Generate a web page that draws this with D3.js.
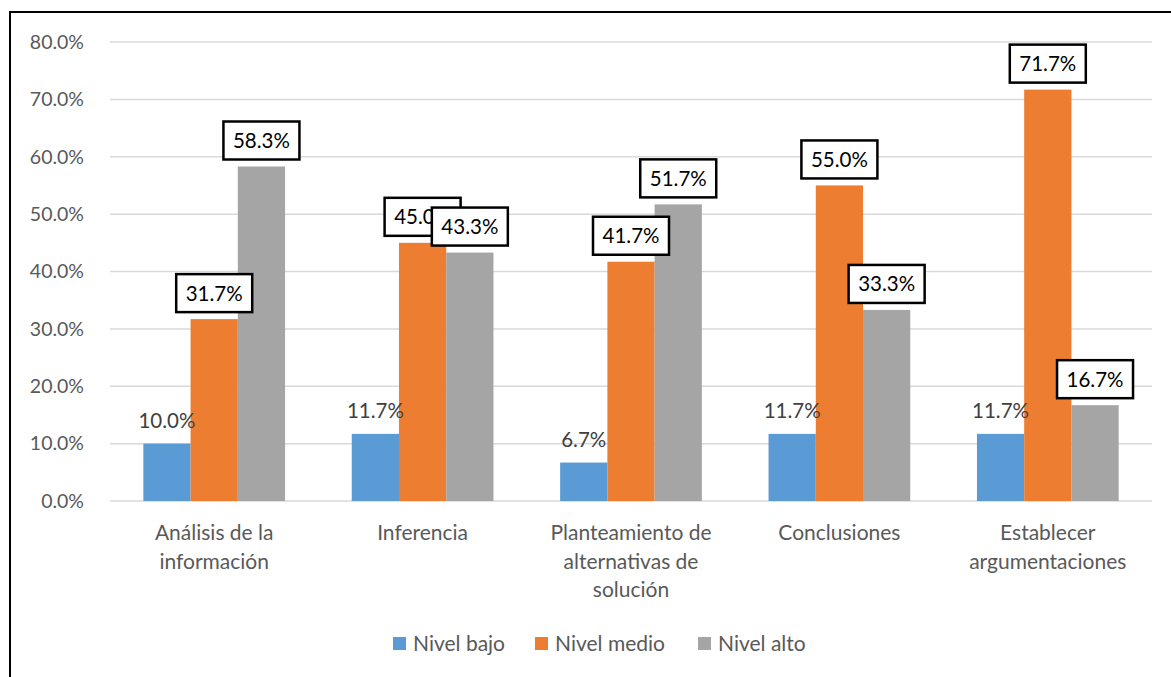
<!DOCTYPE html>
<html>
<head>
<meta charset="utf-8">
<script src="https://cdn.jsdelivr.net/npm/d3@7"></script>
<style>
  body { margin: 0; background: #fff; }
  svg { font-family: Lato, "Open Sans", sans-serif; }
</style>
</head>
<body>
<svg></svg>
<script>
// chart data
var categories = [
  ["Análisis de la", "información"],
  ["Inferencia"],
  ["Planteamiento de", "alternativas de", "solución"],
  ["Conclusiones"],
  ["Establecer", "argumentaciones"]
];
var seriesNames = ["Nivel bajo", "Nivel medio", "Nivel alto"];
var nivelBajo = [10.0, 11.7, 6.7, 11.7, 11.7];
var nivelMedio = [31.7, 45.0, 41.7, 55.0, 71.7];
var nivelAlto = [58.3, 43.3, 51.7, 33.3, 16.7];
var yTicks = [0, 10, 20, 30, 40, 50, 60, 70, 80];

var colors = ["#5B9BD5", "#ED7D31", "#A5A5A5"];
var series = [nivelBajo, nivelMedio, nivelAlto];

var svgWidth = 1171, svgHeight = 677;
var plotLeft = 110, plotRight = 1152, plotTop = 42, plotBottom = 501;

var svg = d3.select("svg")
    .attr("width", svgWidth)
    .attr("height", svgHeight);

// outer frame (runs off the right and bottom edges)
svg.append("rect")
    .attr("x", 10).attr("y", 12)
    .attr("width", 1200).attr("height", 700)
    .attr("fill", "none")
    .attr("stroke", "#000")
    .attr("stroke-width", 2);

var x0 = d3.scaleBand()
    .domain(d3.range(categories.length))
    .range([plotLeft, plotRight])
    .paddingInner(0.32)
    .paddingOuter(0.16);

var x1 = d3.scaleBand()
    .domain(d3.range(series.length))
    .range([0, x0.bandwidth()]);

var y = d3.scaleLinear()
    .domain([0, 80])
    .range([plotBottom, plotTop]);

// gridlines
svg.append("g")
    .selectAll("line")
    .data(yTicks)
    .enter()
    .append("line")
    .attr("x1", plotLeft).attr("x2", plotRight)
    .attr("y1", function(d) { return y(d); })
    .attr("y2", function(d) { return y(d); })
    .attr("stroke", "#D9D9D9")
    .attr("stroke-width", 1.5);

// y axis labels
var yAxis = svg.append("g")
    .attr("transform", "translate(" + (plotLeft - 26) + ",0)")
    .call(d3.axisLeft(y).tickValues(yTicks).tickSize(0).tickPadding(0)
        .tickFormat(function(d) { return d.toFixed(1) + "%"; }));
yAxis.select(".domain").remove();
yAxis.selectAll("text")
    .attr("fill", "#595959")
    .style("font-size", "19.5px")
    .style("font-family", "Lato, 'Open Sans', sans-serif");

// bars
var groups = svg.append("g")
    .selectAll("g")
    .data(categories)
    .enter()
    .append("g")
    .attr("transform", function(d, i) { return "translate(" + x0(i) + ",0)"; });

groups.selectAll("rect")
    .data(function(d, i) { return series.map(function(s) { return s[i]; }); })
    .enter()
    .append("rect")
    .attr("x", function(d, j) { return x1(j); })
    .attr("y", function(d) { return y(d); })
    .attr("width", x1.bandwidth())
    .attr("height", function(d) { return plotBottom - y(d); })
    .attr("fill", function(d, j) { return colors[j]; });

// plain labels for Nivel bajo
svg.append("g")
    .selectAll("text")
    .data(nivelBajo)
    .enter()
    .append("text")
    .attr("x", function(d, i) { return x0(i) + x1(0) + x1.bandwidth() / 2; })
    .attr("y", function(d) { return y(d) - 16; })
    .attr("text-anchor", "middle")
    .attr("fill", "#404040")
    .style("font-size", "20.5px")
    .text(function(d) { return d.toFixed(1) + "%"; });

// boxed labels for Nivel medio and Nivel alto
var boxed = [];
[1, 2].forEach(function(j) {
    series[j].forEach(function(v, i) { boxed.push({ s: j, i: i, v: v }); });
});

var boxW = 76, boxH = 38;
var labels = svg.append("g")
    .selectAll("g")
    .data(boxed)
    .enter()
    .append("g")
    .attr("transform", function(d) {
        var cx = x0(d.i) + x1(d.s) + x1.bandwidth() / 2;
        return "translate(" + cx + "," + (y(d.v) - 7 - boxH / 2) + ")";
    });

labels.append("rect")
    .attr("x", -boxW / 2).attr("y", -boxH / 2)
    .attr("width", boxW).attr("height", boxH)
    .attr("fill", "#fff")
    .attr("stroke", "#000")
    .attr("stroke-width", 2.5);

labels.append("text")
    .attr("text-anchor", "middle")
    .attr("dy", "0.36em")
    .attr("fill", "#000")
    .style("font-size", "20.5px")
    .text(function(d) { return d.v.toFixed(1) + "%"; });

// category labels
var cat = svg.append("g")
    .selectAll("text")
    .data(categories)
    .enter()
    .append("text")
    .attr("x", function(d, i) { return x0(i) + x0.bandwidth() / 2; })
    .attr("y", 540)
    .attr("text-anchor", "middle")
    .attr("fill", "#595959")
    .style("font-size", "21px");

cat.selectAll("tspan")
    .data(function(d) { return d; })
    .enter()
    .append("tspan")
    .attr("x", function() { return d3.select(this.parentNode).attr("x"); })
    .attr("dy", function(d, k) { return k === 0 ? 0 : 28.5; })
    .text(function(d) { return d; });

// legend
var legendX = [393, 535, 698];
var legend = svg.append("g")
    .selectAll("g")
    .data(seriesNames)
    .enter()
    .append("g")
    .attr("transform", function(d, i) { return "translate(" + legendX[i] + ",637)"; });

legend.append("rect")
    .attr("width", 13).attr("height", 13)
    .attr("fill", function(d, i) { return colors[i]; });

legend.append("text")
    .attr("x", 20).attr("y", 14)
    .attr("fill", "#595959")
    .style("font-size", "21px")
    .text(function(d) { return d; });
</script>
</body>
</html>
